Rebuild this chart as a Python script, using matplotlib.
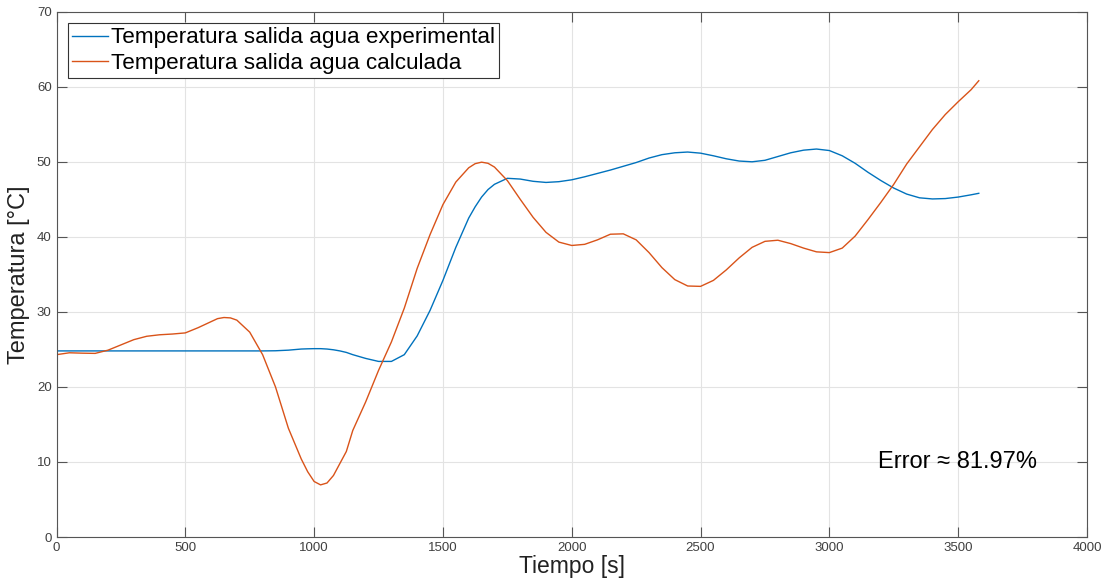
import matplotlib.pyplot as plt

plt.rcParams['font.family'] = ['Liberation Sans', 'DejaVu Sans']

# tiempo [s] y temperaturas de salida del agua [°C]
tiempo = [0, 50, 100, 150, 200, 250, 300, 350, 400, 450, 500, 550, 600, 625,
          650, 675, 700, 750, 800, 850, 900, 950, 975, 1000, 1025, 1050, 1075,
          1100, 1125, 1150, 1200, 1250, 1300, 1350, 1400, 1450, 1500, 1550,
          1600, 1625, 1650, 1675, 1700, 1750, 1800, 1850, 1900, 1950, 2000,
          2050, 2100, 2150, 2200, 2250, 2300, 2350, 2400, 2450, 2500, 2550,
          2600, 2650, 2700, 2750, 2800, 2850, 2900, 2950, 3000, 3050, 3100,
          3150, 3200, 3250, 3300, 3350, 3400, 3450, 3500, 3550, 3580]

t_exp = [24.8, 24.8, 24.8, 24.8, 24.8, 24.8, 24.8, 24.8, 24.8, 24.8, 24.8,
         24.8, 24.8, 24.8, 24.8, 24.8, 24.8, 24.8, 24.8, 24.82, 24.9, 25.05,
         25.08, 25.1, 25.1, 25.05, 24.95, 24.8, 24.6, 24.3, 23.8, 23.4, 23.4,
         24.3, 26.8, 30.2, 34.2, 38.6, 42.5, 44.0, 45.3, 46.3, 47.0, 47.8,
         47.7, 47.4, 47.25, 47.35, 47.6, 48.0, 48.45, 48.9, 49.4, 49.9, 50.5,
         50.95, 51.2, 51.3, 51.15, 50.8, 50.4, 50.1, 50.0, 50.2, 50.7, 51.2,
         51.55, 51.7, 51.5, 50.8, 49.8, 48.6, 47.5, 46.5, 45.7, 45.2, 45.05,
         45.1, 45.3, 45.6, 45.8]

t_calc = [24.3, 24.55, 24.5, 24.47, 24.9, 25.6, 26.3, 26.75, 26.95, 27.05,
          27.2, 27.9, 28.7, 29.1, 29.25, 29.2, 28.9, 27.3, 24.3, 20.0, 14.5,
          10.4, 8.7, 7.4, 6.95, 7.2, 8.2, 9.8, 11.4, 14.2, 18.0, 22.2, 26.0,
          30.5, 35.8, 40.3, 44.3, 47.3, 49.2, 49.75, 49.95, 49.8, 49.3, 47.5,
          45.0, 42.6, 40.6, 39.3, 38.85, 39.0, 39.6, 40.35, 40.4, 39.6, 37.9,
          35.9, 34.3, 33.45, 33.4, 34.2, 35.6, 37.2, 38.6, 39.4, 39.55, 39.1,
          38.5, 38.0, 37.9, 38.5, 40.1, 42.3, 44.6, 47.0, 49.7, 52.0, 54.3,
          56.3, 58.0, 59.6, 60.8]

error_pct = 81.97

fig = plt.figure(figsize=(11.06, 5.85), dpi=100)
ax = fig.add_axes([0.0511, 0.082, 0.9317, 0.898])

ax.plot(tiempo, t_exp, color='#0072BD', lw=1.0,
        label='Temperatura salida agua experimental')
ax.plot(tiempo, t_calc, color='#D95319', lw=1.0,
        label='Temperatura salida agua calculada')

ax.set_xlim(0, 4000)
ax.set_ylim(0, 70)
ax.set_xticks(range(0, 4001, 500))
ax.set_yticks(range(0, 71, 10))
ax.grid(True, color='#e3e3e3', lw=0.8)
ax.set_axisbelow(True)

axc = '#555555'
for s in ax.spines.values():
    s.set_color(axc)
    s.set_linewidth(0.8)
ax.tick_params(direction='in', length=7, width=0.8, color=axc,
               labelcolor='#404040', labelsize=9.5, top=True, right=True)

ax.set_xlabel('Tiempo [s]', fontsize=16.5, color='#222222', labelpad=1)
ax.set_ylabel('Temperatura [°C]', fontsize=17, color='#222222', labelpad=5)

ax.text(3190, 10, f'Error ≈ {error_pct}%', fontsize=17, va='center', ha='left')

leg = ax.legend(loc='upper left', fontsize=16.2, frameon=True, fancybox=False,
                handlelength=1.6, handletextpad=0.1, borderpad=0.2,
                labelspacing=0.2, borderaxespad=0.5)
leg.get_frame().set_edgecolor('#333333')
leg.get_frame().set_linewidth(0.8)
leg.get_frame().set_alpha(1)

fig.savefig('out.png', dpi=100)
